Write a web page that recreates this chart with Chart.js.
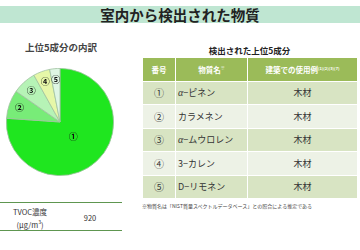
<!DOCTYPE html>
<html>
<head>
<meta charset="utf-8">
<script src="https://cdn.jsdelivr.net/npm/chart.js@4"></script>
<style>
  body { margin: 0; width: 360px; height: 250px; background: #fff; position: relative; overflow: hidden;
         font-family: "Noto Sans CJK JP", "Noto Sans", sans-serif; color: #333; }
  .band { position: absolute; left: 0; top: 6px; width: 360px; height: 17px; background: #bfe6d2;
          text-align: center; font-size: 14.5px; font-weight: bold; line-height: 17px; color: #222; }
  .ptitle { position: absolute; left: 0; width: 122px; top: 40px; text-align: center; font-size: 9.5px; font-weight: bold; color: #444; }
  #pieWrap { position: absolute; left: 6px; top: 68px; width: 108px; height: 108px; }
  .tvoc { position: absolute; left: 0; top: 202px; width: 122px; height: 27px;
          border-top: 1.5px solid #5e9650; border-bottom: 1.5px solid #5e9650; font-size: 7.5px; }
  .tvoc .k { position: absolute; left: 0; width: 60px; top: 4px; text-align: center; line-height: 10px; }
  .tvoc .v { position: absolute; left: 70px; width: 40px; top: 9px; text-align: center; }
  .ttitle { position: absolute; left: 142px; width: 215px; top: 44px; text-align: center; font-size: 8.5px; font-weight: bold; color: #222; }
  table { position: absolute; left: 142px; top: 57px; width: 215px; border-collapse: collapse; table-layout: fixed; }
  td, th { border: 1px solid #fff; padding: 0; height: 22.5px; font-size: 9px; }
  th { background: #9bbb59; color: #fff; font-size: 7.5px; font-weight: bold; }
  th sup { font-size: 4px; }
  tr.d td { background: #d8e4c3; }
  tr.l td { background: #edf2e6; }
  td.n { text-align: center; font-size: 10px; }
  td.m { padding-left: 2px; }
  td.u { text-align: center; }
  .alpha { font-family: "Liberation Serif", serif; font-style: italic; font-size: 10px; }
  .note { position: absolute; left: 142px; top: 202px; font-size: 5px; color: #444; white-space: nowrap; }
</style>
</head>
<body>
<div class="band">室内から検出された物質</div>
<div class="ptitle">上位5成分の内訳</div>
<div id="pieWrap"><canvas id="pie" width="108" height="108"></canvas></div>
<div class="tvoc"><div class="k">TVOC濃度<br>(μg/m<sup style="font-size:5px">3</sup>)</div><div class="v" id="tvocVal"></div></div>
<div class="ttitle">検出された上位5成分</div>
<table id="tbl">
  <colgroup><col style="width:33px"><col style="width:72px"><col style="width:110px"></colgroup>
  <thead><tr><th>番号</th><th>物質名<sup>※</sup></th><th>建築での使用例<sup>(1)(2)(3)(7)</sup></th></tr></thead>
  <tbody id="tbody"></tbody>
</table>
<div class="note">※物質名は「NIST質量スペクトルデータベース」との照合による推定である</div>
<script>
// Data
const marks = ['①', '②', '③', '④', '⑤'];
const shares = [76.1, 8.6, 7.2, 5.0, 3.1];
const names = ['α−ピネン', 'カラメネン', 'α−ムウロレン', '3−カレン', 'D−リモネン'];
const uses = ['木材', '木材', '木材', '木材', '木材'];
const tvoc = 920;

const sliceColors = ['#1fe61f', '#78ec78', '#b6f3b6', '#e6f7a8', '#def6e4'];

// Table rows
const tbody = document.getElementById('tbody');
marks.forEach((m, i) => {
    const tr = document.createElement('tr');
    tr.className = i % 2 === 0 ? 'd' : 'l';
    const name = names[i].replace('α', '<span class="alpha">α</span>');
    tr.innerHTML = `<td class="n">${m}</td><td class="m">${name}</td><td class="u">${uses[i]}</td>`;
    tbody.appendChild(tr);
});
document.getElementById('tvocVal').textContent = tvoc;

// Labels inside the slices
const sliceLabels = {
    id: 'sliceLabels',
    afterDatasetsDraw(chart) {
        const ctx = chart.ctx;
        const meta = chart.getDatasetMeta(0);
        ctx.save();
        ctx.font = 'bold 9px "Noto Sans CJK JP"';
        ctx.fillStyle = '#111';
        ctx.textAlign = 'center';
        ctx.textBaseline = 'middle';
        meta.data.forEach((arc, i) => {
            const mid = (arc.startAngle + arc.endAngle) / 2;
            const r = arc.outerRadius * (i === 0 ? 0.36 : 0.8);
            ctx.fillText(marks[i], arc.x + Math.cos(mid) * r, arc.y + Math.sin(mid) * r);
        });
        ctx.restore();
    }
};

const pieChart = new Chart(document.getElementById('pie').getContext('2d'), {
    type: 'pie',
    data: {
        labels: marks,
        datasets: [{
            data: shares,
            backgroundColor: sliceColors,
            borderColor: '#9fc29f',
            borderWidth: 0.8,
            hoverOffset: 0
        }]
    },
    options: {
        responsive: false,
        animation: false,
        layout: { padding: 0 },
        plugins: { legend: { display: false }, tooltip: { enabled: false } }
    },
    plugins: [sliceLabels]
});
</script>
</body>
</html>
